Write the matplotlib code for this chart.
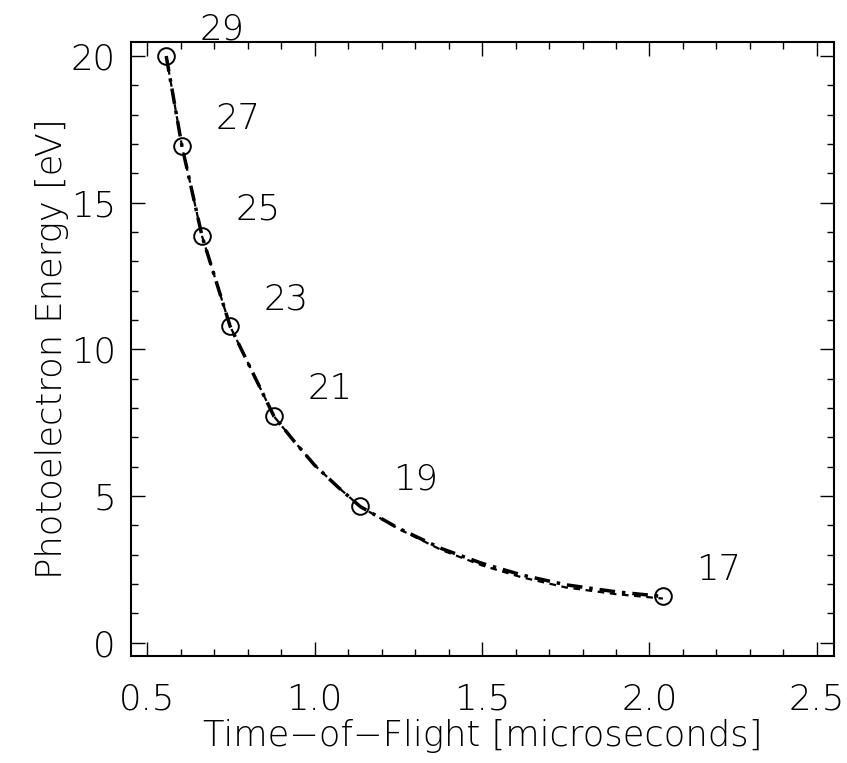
# Photoelectron energy vs time-of-flight, harmonic orders labelled

import matplotlib
matplotlib.use('Agg')
import matplotlib.pyplot as plt
from matplotlib.ticker import MultipleLocator

# harmonic peaks (circles)
tof_us = [0.557, 0.604, 0.664, 0.748, 0.879, 1.136, 2.040]
energy_ev = [20.00, 16.93, 13.86, 10.78, 7.71, 4.64, 1.57]
orders = ['29', '27', '25', '23', '21', '19', '17']

# calibration curves
curve_t = [0.557, 0.604, 0.664, 0.748, 0.879, 0.94, 1.000, 1.07, 1.136, 1.250, 1.380, 1.500, 1.620, 1.750, 1.900, 2.040]
curve_e = [20.00, 16.93, 13.86, 10.78, 7.71, 6.85, 6.05, 5.30, 4.64, 3.90, 3.20, 2.70, 2.30, 1.97, 1.73, 1.57]
fit_e = [20.00, 16.93, 13.86, 10.78, 7.71, 6.85, 6.05, 5.30, 4.64, 3.88, 3.15, 2.63, 2.22, 1.88, 1.65, 1.50]

LABEL_DX = 0.167
LABEL_DY = 0.92

plt.rcParams['font.family'] = ['DejaVu Sans']
FS = 25.5
FW = 'light'

fig = plt.figure(figsize=(8.47, 7.63), dpi=100)
ax = fig.add_axes([0.1547, 0.1402, 0.830, 0.8048])

ax.plot(curve_t, fit_e, color='black', lw=1.6, dashes=(3, 2.5), zorder=2)
ax.plot(curve_t, curve_e, color='black', lw=2.5, dashes=(4.5, 2.0, 1, 2.0), zorder=3)
ax.plot(tof_us, energy_ev, 'o', ms=12, mfc='none', mec='black', mew=1.4, zorder=4)

for t, e, lab in zip(tof_us, energy_ev, orders):
    ax.text(t + LABEL_DX, e + LABEL_DY, lab, ha='center', va='center',
            fontsize=FS, fontweight=FW, clip_on=False)

ax.set_xlim(0.452, 2.551)
ax.set_ylim(-0.46, 20.48)
ax.xaxis.set_major_locator(MultipleLocator(0.5))
ax.xaxis.set_minor_locator(MultipleLocator(0.1))
ax.yaxis.set_major_locator(MultipleLocator(5))
ax.yaxis.set_minor_locator(MultipleLocator(1))
ax.xaxis.set_major_formatter(plt.FuncFormatter(lambda v, p: '%.1f' % v))

for s in ax.spines.values():
    s.set_linewidth(1.5)
ax.tick_params(which='both', direction='in', top=True, right=True, width=1.0,
               labelsize=FS)
ax.tick_params(which='major', length=10)
ax.tick_params(which='minor', length=5)
ax.tick_params(axis='x', which='major', pad=19)
ax.tick_params(axis='y', which='major', pad=11)
for lbl in ax.get_xticklabels() + ax.get_yticklabels():
    lbl.set_fontweight(FW)

ax.set_xlabel('Time\u2212of\u2212Flight [microseconds]', fontsize=FS, fontweight=FW, labelpad=2)
ax.set_ylabel('Photoelectron Energy [eV]', fontsize=FS, fontweight=FW, labelpad=1)

fig.savefig('out.png', dpi=100)
